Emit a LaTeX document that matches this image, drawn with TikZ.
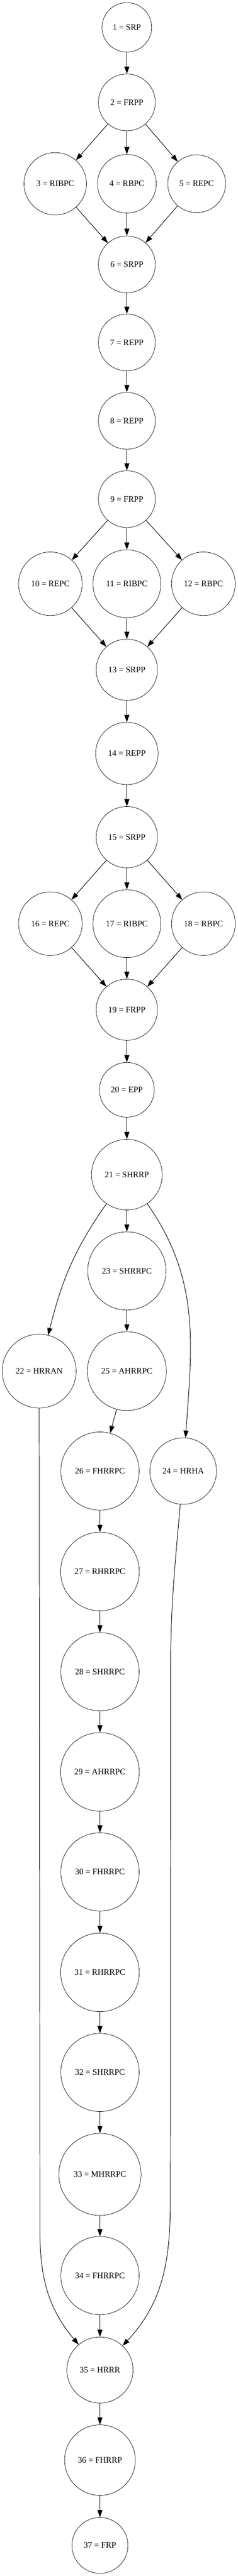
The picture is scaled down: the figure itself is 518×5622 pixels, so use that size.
\documentclass[tikz,border=0pt]{standalone}
\usepackage{fontspec}
\setmainfont{Liberation Serif}
\usetikzlibrary{arrows.meta}
\tikzset{
  st/.style={draw, circle, inner sep=0pt, line width=0.8pt,
    font=\fontsize{18.4}{22}\selectfont},
  >={Triangle[length=15.7pt,width=11pt]}
}
\begin{document}
\begin{tikzpicture}[x=1pt, y=-1pt, line width=1.1pt]
          \useasboundingbox (0,0) rectangle (518,5622);

          \node[st, minimum size=108] (srp1) at (276.3, 59.7) {1 = SRP};
          \node[st, minimum size=124] (frpp2) at (276.3, 223.5) {2 = FRPP};

          \node[st, minimum size=136] (ribpc3) at (120.3, 401) {3 = RIBPC};
          \node[st, minimum size=128] (rbpc4) at (276.3, 401) {4 = RBPC};
          \node[st, minimum size=126] (repc5) at (428.3, 401) {5 = REPC};
          \node[st, minimum size=124] (srpp6) at (276.3, 577) {6 = SRPP};
          \draw[->] (srp1) to (frpp2);
          \draw[->] (frpp2) to (ribpc3);
          \draw[->] (frpp2) to (rbpc4);
          \draw[->] (frpp2) to (repc5);
          \draw[->] (ribpc3) to (srpp6);
          \draw[->] (rbpc4) to (srpp6);
          \draw[->] (repc5) to (srpp6);

          \node[st, minimum size=124] (repp7) at (276.3, 747.4) {7 = REPP};
          \node[st, minimum size=124] (repp8) at (276.3, 918.4) {8 = REPP};
          \node[st, minimum size=124] (frpp9) at (276.3, 1089.3) {9 = FRPP};
          \draw[->] (srpp6) to (repp7);
          \draw[->] (repp7) to (repp8);
          \draw[->] (repp8) to (frpp9);

          \node[st, minimum size=138.6] (repc10) at (109.7, 1274) {10 = REPC};
          \node[st, minimum size=148] (ribpc11) at (276.3, 1274) {11 = RIBPC};
          \node[st, minimum size=138.6] (rbpc12) at (443, 1274) {12 = RBPC};
          \node[st, minimum size=133.6] (srpp13) at (276.3, 1461.7) {13 = SRPP};
          \draw[->] (frpp9) to (repc10);
          \draw[->] (frpp9) to (ribpc11);
          \draw[->] (frpp9) to (rbpc12);
          \draw[->] (repc10) to (srpp13);
          \draw[->] (ribpc11) to (srpp13);
          \draw[->] (rbpc12) to (srpp13);

          \node[st, minimum size=136] (repp14) at (276.3, 1644.4) {14 = REPP};
          \node[st, minimum size=133.6] (srpp15) at (276.3, 1827) {15 = SRPP};
          \draw[->] (srpp13) to (repp14);
          \draw[->] (repp14) to (srpp15);

          \node[st, minimum size=138.6] (repc16) at (109.7, 2015.8) {16 = REPC};
          \node[st, minimum size=148] (ribpc17) at (276.3, 2015.8) {17 = RIBPC};
          \node[st, minimum size=138.6] (rbpc18) at (443, 2015.8) {18 = RBPC};
          \node[st, minimum size=133.6] (frpp19) at (276.3, 2203.6) {19 = FRPP};
          \draw[->] (srpp15) to (repc16);
          \draw[->] (srpp15) to (ribpc17);
          \draw[->] (srpp15) to (rbpc18);
          \draw[->] (repc16) to (frpp19);
          \draw[->] (ribpc17) to (frpp19);
          \draw[->] (rbpc18) to (frpp19);

          \node[st, minimum size=119.4] (epp20) at (276.3, 2378.5) {20 = EPP};
          \node[st, minimum size=154] (shrrp21) at (276.3, 2563.6) {21 = SHRRP};
          \draw[->] (frpp19) to (epp20);
          \draw[->] (epp20) to (shrrp21);

          \node[st, minimum size=170.6] (shrrpc23) at (276.3, 2773.7) {23 = SHRRPC};
          \node[st, minimum size=161] (hrran22) at (85.3, 2992.4) {22 = HRRAN};
          \node[st, minimum size=172] (ahrrpc25) at (276.3, 2992.4) {25 = AHRRPC};
          \node[st, minimum size=170.6] (fhrrpc26) at (217.7, 3210.5) {26 = FHRRPC};
          \node[st, minimum size=145] (hrha24) at (399, 3210.5) {24 = HRHA};
          \draw[->] (shrrp21) to[out=235, in=76] (hrran22);
          \draw[->] (shrrp21) to (shrrpc23);
          \draw[->] (shrrp21) to[out=305, in=86] (hrha24);
          \draw[->] (shrrpc23) to (ahrrpc25);
          \draw[->] (ahrrpc25) to (fhrrpc26);

          \node[st, minimum size=171.4] (rhrrpc27) at (217.7, 3429.7) {27 = RHRRPC};
          \node[st, minimum size=170.6] (shrrpc28) at (217.7, 3648.4) {28 = SHRRPC};
          \node[st, minimum size=171.4] (ahrrpc29) at (217.7, 3867) {29 = AHRRPC};
          \node[st, minimum size=170.6] (fhrrpc30) at (217.7, 4085.3) {30 = FHRRPC};
          \node[st, minimum size=171.4] (rhrrpc31) at (217.7, 4304.6) {31 = RHRRPC};
          \node[st, minimum size=170.6] (shrrpc32) at (217.7, 4523) {32 = SHRRPC};
          \node[st, minimum size=179] (mhrrpc33) at (217.7, 4745.4) {33 = MHRRPC};
          \node[st, minimum size=170.6] (fhrrpc34) at (217.7, 4966.3) {34 = FHRRPC};
          \draw[->] (fhrrpc26) to (rhrrpc27);
          \draw[->] (rhrrpc27) to (shrrpc28);
          \draw[->] (shrrpc28) to (ahrrpc29);
          \draw[->] (ahrrpc29) to (fhrrpc30);
          \draw[->] (fhrrpc30) to (rhrrpc31);
          \draw[->] (rhrrpc31) to (shrrpc32);
          \draw[->] (shrrpc32) to (mhrrpc33);
          \draw[->] (mhrrpc33) to (fhrrpc34);

          \node[st, minimum size=144] (hrrr35) at (217.7, 5172.4) {35 = HRRR};
          \node[st, minimum size=154] (fhrrp36) at (217.7, 5369) {36 = FHRRP};
          \node[st, minimum size=122] (frp37) at (217.7, 5555.2) {37 = FRP};

          % long side edges into 35
          \coordinate (k22) at (87, 4870);
          \coordinate (k24a) at (371.5, 3650);
          \coordinate (k24b) at (371, 4800);
          \draw[->] (hrran22) -- (k22) to[out=270, in=130] (hrrr35);
          \draw[->] (hrha24) to[out=265, in=90] (k24a) -- (k24b) to[out=270, in=47] (hrrr35);
          \draw[->] (fhrrpc34) to (hrrr35);
          \draw[->] (hrrr35) to (fhrrp36);
          \draw[->] (fhrrp36) to (frp37);
        \end{tikzpicture}
\end{document}
